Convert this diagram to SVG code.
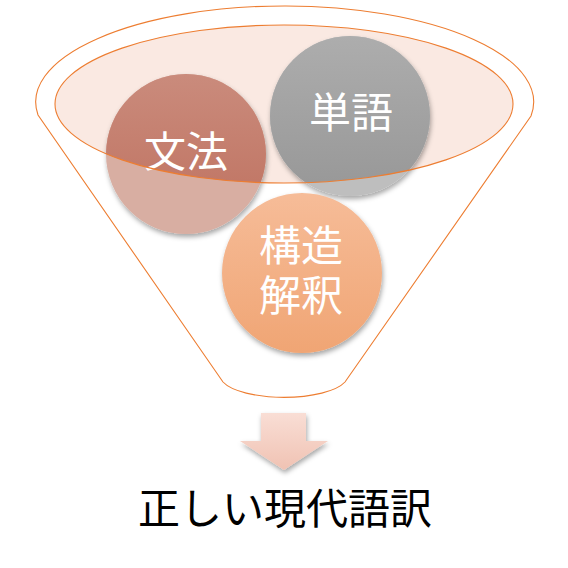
<svg xmlns="http://www.w3.org/2000/svg" width="568" height="568" viewBox="0 0 568 568">
<defs>
<style>
.lbl{font-family:"Noto Sans CJK JP","Noto Sans CJK SC",sans-serif;font-size:42px;fill:#fff;text-anchor:middle}
.out{font-family:"Noto Sans CJK JP","Noto Sans CJK SC",sans-serif;font-size:42px;fill:#000;text-anchor:middle}
.line{fill:none;stroke:#ED7D31;stroke-width:1.1}
</style>
<filter id="sh" x="-20%" y="-20%" width="140%" height="150%">
<feDropShadow dx="1" dy="3" stdDeviation="2.5" flood-color="#000" flood-opacity="0.35"/>
</filter>
<clipPath id="inEl"><ellipse cx="284" cy="104" rx="229" ry="79"/></clipPath>
<linearGradient id="gRed" x1="0" y1="0" x2="0" y2="1">
<stop offset="0" stop-color="#CA8B7C"/><stop offset="1" stop-color="#BE705E"/>
</linearGradient>
<linearGradient id="gGray" x1="0" y1="0" x2="0" y2="1">
<stop offset="0" stop-color="#ADADAD"/><stop offset="1" stop-color="#979797"/>
</linearGradient>
<linearGradient id="gOr" x1="0" y1="0" x2="0" y2="1">
<stop offset="0" stop-color="#F6BC98"/><stop offset="1" stop-color="#F0A574"/>
</linearGradient>
<linearGradient id="gArr" x1="0" y1="0" x2="0" y2="1">
<stop offset="0" stop-color="#F9DED5"/><stop offset="1" stop-color="#F0C2B3"/>
</linearGradient>
</defs>

<g id="funnel">
<path class="line" d="M38,115 A249,96 0 1 1 531,116 L345,382 A64,22 0 0 1 223,382 Z"/>
<ellipse cx="284" cy="104" rx="229" ry="79" fill="#FAE9E2"/>
</g>

<g id="node-bunpo">
<circle cx="186" cy="154" r="80" fill="#D8AEA2" filter="url(#sh)"/>
<circle cx="186" cy="154" r="80" fill="url(#gRed)" clip-path="url(#inEl)"/>
<text class="lbl" x="186" y="167">文法</text>
</g>

<g id="node-tango">
<circle cx="350" cy="116" r="80" fill="#BEBEBE" filter="url(#sh)"/>
<circle cx="350" cy="116" r="80" fill="url(#gGray)" clip-path="url(#inEl)"/>
<text class="lbl" x="351" y="128">単語</text>
</g>

<g id="node-kozo">
<circle cx="302" cy="273" r="80" fill="url(#gOr)" filter="url(#sh)"/>
<text class="lbl"><tspan x="301" y="261">構造</tspan><tspan x="301" y="311">解釈</tspan></text>
</g>

<g id="funnel-rim">
<ellipse class="line" cx="284" cy="104" rx="229" ry="79"/>
</g>

<g id="connectors">
<path d="M261,413 H306 V441 H328 L284,470 L240,441 H261 Z" fill="url(#gArr)" filter="url(#sh)"/>
</g>

<g id="node-result">
<text class="out" x="285" y="524">正しい現代語訳</text>
</g>
</svg>
